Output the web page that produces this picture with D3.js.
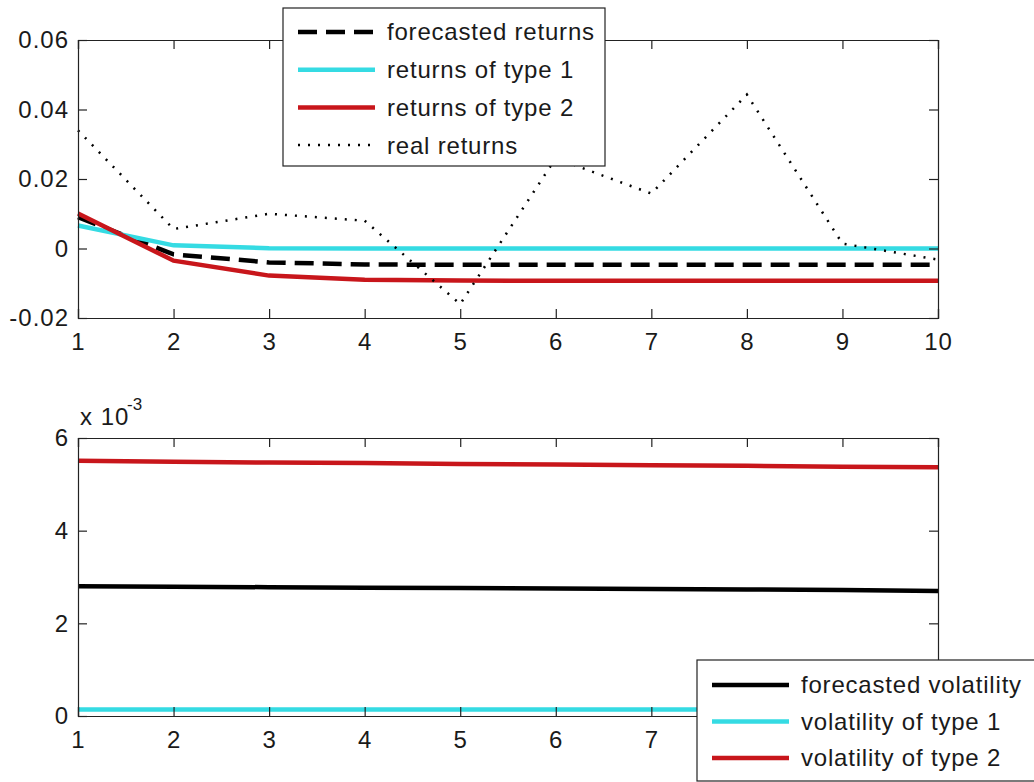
<!DOCTYPE html>
<html>
<head>
<meta charset="utf-8">
<script src="https://cdn.jsdelivr.net/npm/d3@7"></script>
<style>
  body { margin: 0; background: #fff; }
  svg text { font-family: "Liberation Sans", Arial, sans-serif; fill: #1a1a1a; }
</style>
</head>
<body>
<div id="chart"></div>
<script>
// the data
var steps = [1, 2, 3, 4, 5, 6, 7, 8, 9, 10]
var forecastReturns = [0.0090, -0.0017, -0.0040, -0.0046, -0.0047, -0.0047, -0.0047, -0.0047, -0.0047, -0.0047]
var returnsType1 = [0.0066, 0.0009, 0.0001, 0.0000, 0.0000, 0.0000, 0.0000, 0.0000, 0.0000, 0.0000]
var returnsType2 = [0.0101, -0.0035, -0.0078, -0.0090, -0.0092, -0.0093, -0.0093, -0.0093, -0.0093, -0.0093]
var realReturns = [0.0340, 0.0056, 0.0100, 0.0080, -0.0160, 0.0260, 0.0158, 0.0443, 0.0014, -0.0032]

var forecastVol = [0.00280, 0.00279, 0.00278, 0.00277, 0.00276, 0.00275, 0.00274, 0.00273, 0.00272, 0.00270]
var volType1 = [0.00014, 0.00014, 0.00014, 0.00014, 0.00014, 0.00014, 0.00014, 0.00014, 0.00014, 0.00014]
var volType2 = [0.00551, 0.00549, 0.00547, 0.00546, 0.00544, 0.00543, 0.00541, 0.00540, 0.00538, 0.00537]

var topTicks = [-0.02, 0, 0.02, 0.04, 0.06]
var bottomTicks = [0, 0.002, 0.004, 0.006]
// the bottom legend hides the last x labels of the lower plot
var hiddenBottomLabels = [8, 9, 10]

var returnSeries = [
  {name: "forecasted returns", values: forecastReturns, color: "#000000", width: 4.5, dash: "19,9"},
  {name: "returns of type 1", values: returnsType1, color: "#35dbe3", width: 4.5, dash: null},
  {name: "returns of type 2", values: returnsType2, color: "#c8161b", width: 4.5, dash: null},
  {name: "real returns", values: realReturns, color: "#000000", width: 2.5, dash: "2,8"}
]
var volSeries = [
  {name: "forecasted volatility", values: forecastVol, color: "#000000", width: 4.5, dash: null},
  {name: "volatility of type 1", values: volType1, color: "#35dbe3", width: 4.5, dash: null},
  {name: "volatility of type 2", values: volType2, color: "#c8161b", width: 4.5, dash: null}
]

const width = 1034
const height = 782
const tickLen = 9

var svg = d3.select("#chart")
  .append("svg")
    .attr("width", width)
    .attr("height", height)

// one shared x scale, two y scales
var xScale = d3.scaleLinear().domain([1, 10]).range([78, 938])
var yTop = d3.scaleLinear().domain([-0.02, 0.06]).range([318, 40])
var yBottom = d3.scaleLinear().domain([0, 0.006]).range([716, 438])

/**
 * draw a matlab style box with inward ticks
 */
function drawAxes(yScale, yTicks, yFormat, xFormat) {
  var y0 = yScale.range()[0], y1 = yScale.range()[1]
  var x0 = xScale.range()[0], x1 = xScale.range()[1]
  var g = svg.append("g").attr("class", "axes")

  g.append("g")
      .attr("transform", "translate(0," + y0 + ")")
      .call(d3.axisBottom(xScale).tickValues(steps).tickSize(-tickLen).tickPadding(15).tickFormat(xFormat))
  g.append("g")
      .attr("transform", "translate(0," + y1 + ")")
      .call(d3.axisTop(xScale).tickValues(steps).tickSize(-tickLen).tickFormat(""))
  g.append("g")
      .attr("transform", "translate(" + x0 + ",0)")
      .call(d3.axisLeft(yScale).tickValues(yTicks).tickSize(-tickLen).tickPadding(9).tickFormat(yFormat))
  g.append("g")
      .attr("transform", "translate(" + x1 + ",0)")
      .call(d3.axisRight(yScale).tickValues(yTicks).tickSize(-tickLen).tickFormat(""))

  g.selectAll("path, line").attr("stroke", "#222").attr("stroke-width", 1.2)
  g.selectAll("text")
      .attr("font-family", "Liberation Sans, Arial, sans-serif")
      .attr("font-size", "24px")
      .attr("letter-spacing", "1px")
      .attr("fill", "#1a1a1a")
  return g
}

/**
 * draw the lines of one plot
 */
function drawLines(series, yScale) {
  var line = d3.line()
      .x(function(d, i) { return xScale(steps[i]) })
      .y(function(d) { return yScale(d) })

  svg.append("g")
      .attr("class", "lines")
    .selectAll("path")
      .data(series)
      .enter()
      .append("path")
      .attr("d", function(d) { return line(d.values) })
      .attr("fill", "none")
      .attr("stroke", function(d) { return d.color })
      .attr("stroke-width", function(d) { return d.width })
      .attr("stroke-dasharray", function(d) { return d.dash })
}

/**
 * draw a legend box with line samples
 */
function drawLegend(series, x, y, w, h, rowH, firstRow) {
  var g = svg.append("g").attr("transform", "translate(" + x + "," + y + ")")
  g.append("rect")
      .attr("width", w)
      .attr("height", h)
      .attr("fill", "#fff")
      .attr("stroke", "#222")
      .attr("stroke-width", 1.2)

  var rows = g.selectAll(".row")
      .data(series)
      .enter()
      .append("g")
      .attr("transform", function(d, i) { return "translate(0," + (firstRow + i * rowH) + ")" })

  rows.append("line")
      .attr("x1", 15)
      .attr("x2", 92)
      .attr("stroke", function(d) { return d.color })
      .attr("stroke-width", function(d) { return d.width })
      .attr("stroke-dasharray", function(d) { return d.dash })

  rows.append("text")
      .attr("x", 104)
      .attr("dy", "0.35em")
      .attr("font-size", "24px")
      .attr("letter-spacing", "0.8px")
      .text(function(d) { return d.name })
}

// matlab writes a plain hyphen as minus sign
function topFormat(d) {
  return d === 0 ? "0" : d3.format(".2f")(d).replace("\u2212", "-")
}

// top plot: returns
drawLines(returnSeries, yTop)
drawAxes(yTop, topTicks, topFormat, d3.format("d"))
drawLegend(returnSeries, 283, 8, 322, 158, 37.7, 24)

// bottom plot: volatility
drawLines(volSeries, yBottom)
drawAxes(yBottom, bottomTicks,
  function(d) { return d3.format("d")(d * 1000) },
  function(d) { return hiddenBottomLabels.indexOf(d) >= 0 ? "" : d3.format("d")(d) })

// exponent label above the bottom axis
svg.append("text")
    .attr("x", 80)
    .attr("y", 425)
    .attr("font-size", "24px")
    .attr("letter-spacing", "1px")
    .text("x 10")
svg.append("text")
    .attr("x", 127)
    .attr("y", 410)
    .attr("font-size", "17px")
    .text("-3")

drawLegend(volSeries, 697, 660, 350, 121, 36.5, 25)
</script>
</body>
</html>
